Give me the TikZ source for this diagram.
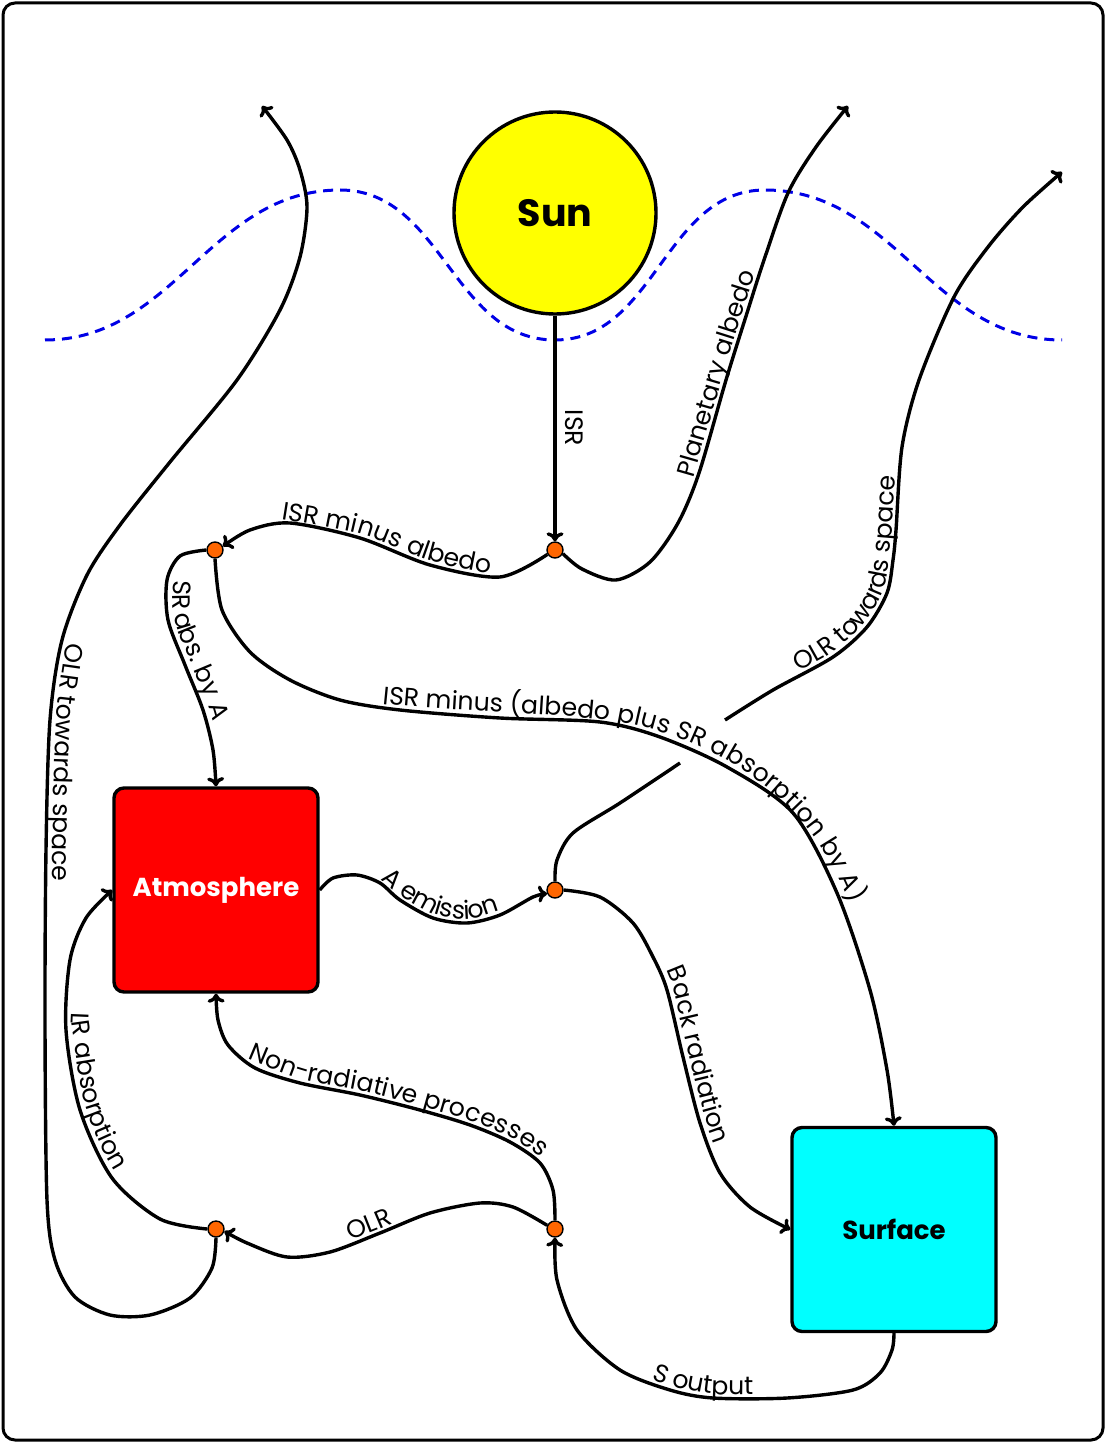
\documentclass[tikz,border=0pt]{standalone}
\usepackage{fontspec}
\setmainfont{Poppins}
\usetikzlibrary{arrows.meta,decorations.text}
\definecolor{jorange}{RGB}{255,102,0}
\definecolor{sunyellow}{RGB}{255,255,0}
\definecolor{atmred}{RGB}{255,0,0}
\definecolor{surfcyan}{RGB}{0,255,255}
\definecolor{waveblue}{RGB}{0,0,230}
\newcommand\lf{\fontsize{12.6pt}{15pt}\selectfont}
\begin{document}
\begin{tikzpicture}[x=0.5pt,y=-0.5pt,
  flow/.style={line width=1.7pt, -{To[length=4.5pt,width=8.5pt]}},
  plainflow/.style={line width=1.7pt},
  junc/.style={circle, fill=jorange, draw, line width=0.7pt, inner sep=0pt, minimum size=8pt},
  box/.style={draw, line width=1.7pt, rounded corners=5pt, minimum size=102pt, inner sep=0pt, font=\fontsize{13}{16}\selectfont\bfseries},
  wave/.style={waveblue, line width=1.5pt, dash pattern=on 5pt off 3.5pt},
  lbl/.style={decorate, decoration={text along path, text align=left, raise=2pt, text={#1}}},
  lblr/.style={decorate, decoration={text along path, text align=left, raise=3.2pt, text={#1}}}
]
\useasboundingbox (0,0) rectangle (1106,1443);
\draw[line width=1.5pt, rounded corners=6pt] (3,3) rectangle (1103,1440);

% dashed wave
\draw[wave] (45,340) to[out=0,in=180] (340,190) to[out=0,in=180] (555,340)
  to[out=0,in=180] (765,190) to[out=0,in=180] (1062,340);

% nodes
\node[circle, draw, line width=1.7pt, fill=sunyellow, minimum size=101pt, inner sep=0pt,
      font=\fontsize{19}{22}\selectfont\bfseries] (sun) at (555,213) {Sun};
\node[box, fill=atmred, text=white] (atm) at (216,890) {Atmosphere};
\node[box, fill=surfcyan] (surf) at (894,1229.5) {Surface};
\node[junc] (J1) at (555,550) {};
\node[junc] (J2) at (215,550) {};
\node[junc] (J3) at (555,890) {};
\node[junc] (J4) at (216,1229) {};
\node[junc] (J5) at (555,1229) {};
\coordinate (tipL) at (262,106);
\coordinate (tipA) at (848,106);
\coordinate (tipR) at (1062,172);
\coordinate (gapA) at (680,763);
\coordinate (gapB) at (725,720);

% ISR
\draw[flow] (sun.south) -- (J1.north);
\node[rotate=-90, font=\lf] (isrl) at (574,428) {ISR};

% ISR minus albedo
\draw[flow] plot[smooth] coordinates {(J1.210) (500,577) (430,565) (360,538) (290,523) (250,530) (J2.25)};
\path[lbl={|\lf|ISR minus albedo}] plot[smooth] coordinates {(281,523) (360,538) (430,565) (500,577) (J1.210)};

% Planetary albedo
\draw[flow] plot[smooth] coordinates {(J1.-25) (582,569) (616,580) (650,562) (678,523) (699,473) (726,380) (747,313) (764,260) (788,193) (816,147) (tipA)};
\path[lbl={|\lf|Planetary albedo}] plot[smooth] coordinates {(697,480) (726,380) (747,313) (764,260) (788,193) (816,147)};

% OLR towards space (right)
\draw[plainflow] plot[smooth] coordinates {(J3.north) (557,860) (573,833) (620,803) (gapA)};
\draw[flow] plot[smooth] coordinates {(gapB) (773,690) (833,657) (867,627) (887,593) (893,560) (896,530) (902,447) (919,380) (954,297) (988,247) (1023,207) (tipR)};
\path[lbl={|\lf|OLR towards space}] plot[smooth] coordinates {(800,675) (833,657) (867,627) (887,593) (893,560) (896,530) (902,447) (919,380)};

% SR abs. by A
\draw[flow] plot[smooth] coordinates {(J2.west) (180,556) (167,580) (168,620) (185,665) (203,710) (213,750) (atm.north)};
\path[lblr={|\lf|SR abs. by A}] plot[smooth] coordinates {(167,580) (168,620) (185,665) (203,710) (213,750) (216,786)};

% ISR minus (albedo plus SR absorption by A)
\draw[flow] plot[smooth] coordinates {(J2.south) (222,610) (250,652) (290,680) (340,700) (400,710) (500,718) (600,722) (660,737) (727,767) (793,813) (837,893) (870,990) (887,1070) (surf.north)};
\path[lbl={|\lf|ISR minus (albedo plus SR absorption by A)}] (382,708) .. controls (460,716) and (560,717) .. (620,726) .. controls (700,740) and (790,790) .. (830,870) .. controls (850,910) and (865,950) .. (872,1000);

% A emission
\draw[flow] plot[smooth] coordinates {(atm.east) (333,878) (357,875) (380,883) (400,900) (433,918) (467,923) (500,915) (533,897) (J3.205)};
\path[lbl={|\lf|A emission}] plot[smooth] coordinates {(378,882) (400,900) (433,918) (467,923) (500,915) (533,897) (J3.205)};

% Back radiation
\draw[flow] plot[smooth] coordinates {(J3.east) (600,897) (633,923) (653,957) (667,990) (683,1057) (700,1123) (720,1173) (750,1207) (surf.west)};
\path[lblr={|\lf|Back radiation}] plot[smooth] coordinates {(660,972) (667,990) (683,1057) (700,1123) (720,1173) (750,1207) (790,1229)};

% LR absorption
\draw[flow] plot[smooth] coordinates {(J4.west) (160,1219) (112,1178) (80,1110) (66,1030) (70,960) (86,918) (atm.west)};
\path[lblr={|\lf|LR absorption}] plot[smooth] coordinates {(66,1012) (66,1030) (80,1110) (112,1178) (160,1219) (207,1229)};

% OLR
\draw[flow] plot[smooth] coordinates {(J5.155) (513,1207) (480,1203) (430,1213) (380,1233) (330,1252) (287,1257) (247,1243) (J4.-15)};
\path[lbl={|\lf|OLR}] plot[smooth] coordinates {(352,1244) (380,1233) (430,1213) (480,1203)};

% Non-radiative processes
\draw[flow] plot[smooth] coordinates {(J5.north) (553,1190) (540,1163) (510,1142) (470,1125) (420,1110) (360,1095) (300,1083) (255,1068) (228,1045) (218,1020) (atm.south)};
\path[lbl={|\lf|Non-radiative processes}] plot[smooth] coordinates {(246,1062) (300,1083) (360,1095) (420,1110) (470,1125) (510,1142) (540,1163) (553,1190)};

% S output
\draw[flow] plot[smooth] coordinates {(surf.south) (892,1350) (880,1373) (853,1390) (787,1398) (713,1398) (670,1390) (620,1370) (577,1330) (557,1280) (J5.south)};
\path[lbl={|\lf|S output}] plot[smooth] coordinates {(650,1383) (670,1390) (713,1398) (787,1398) (853,1390)};

% OLR towards space (left)
\draw[flow] plot[smooth] coordinates {(J4.south) (212,1268) (190,1298) (150,1315) (110,1315) (75,1297) (55,1260) (47,1200) (45,1024) (46,850) (50,720) (62,640) (87,575) (120,525) (170,462) (237,380) (280,310) (300,257) (307,207) (300,170) (287,140) (tipL)};
\path[lblr={|\lf|OLR towards space}] plot[smooth] coordinates {(60,642) (50,720) (46,850) (45,1024) (46,1180)};
\end{tikzpicture}
\end{document}
